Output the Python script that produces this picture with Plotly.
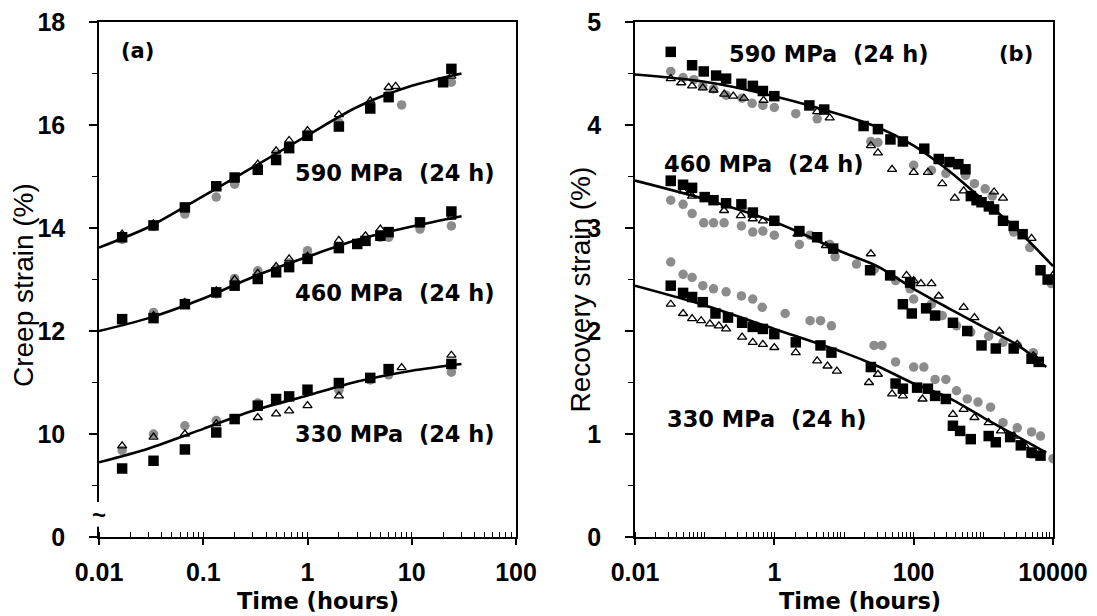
import plotly.graph_objects as go

M = 1.0 / 60.0  # one minute in hours

# ---------------- Panel (a): creep strain (%) vs time (hours) ----------------
a590_sq_t = [1*M, 2*M, 4*M, 8*M, 12*M, 20*M, 30*M, 40*M, 1, 2, 4, 6, 20, 24]
a590_sq_v = [13.82, 14.05, 14.40, 14.81, 14.98, 15.13, 15.32, 15.55, 15.79, 15.97, 16.32, 16.54, 16.83, 17.09]
a590_ci_t = [1*M, 2*M, 4*M, 8*M, 12*M, 20*M, 30*M, 40*M, 1, 2, 4, 6, 8, 24]
a590_ci_v = [13.78, 14.03, 14.27, 14.60, 14.85, 15.15, 15.42, 15.60, 15.82, 16.05, 16.40, 16.60, 16.39, 16.83]
a590_tr_t = [1*M, 2*M, 4*M, 8*M, 12*M, 20*M, 30*M, 40*M, 1, 2, 4, 6, 7, 24]
a590_tr_v = [13.88, 14.08, 14.38, 14.78, 14.97, 15.24, 15.50, 15.70, 15.89, 16.20, 16.47, 16.73, 16.75, 16.95]

a460_sq_t = [1*M, 2*M, 4*M, 8*M, 12*M, 20*M, 30*M, 40*M, 1, 2, 3, 3.6, 5, 6, 12, 24]
a460_sq_v = [12.23, 12.25, 12.52, 12.75, 12.88, 13.01, 13.14, 13.24, 13.40, 13.61, 13.69, 13.75, 13.85, 13.92, 14.11, 14.32]
a460_ci_t = [1*M, 2*M, 4*M, 8*M, 12*M, 20*M, 30*M, 40*M, 1, 2, 5, 6, 12, 24]
a460_ci_v = [12.20, 12.36, 12.55, 12.72, 13.02, 13.17, 13.20, 13.32, 13.56, 13.62, 13.82, 13.82, 13.98, 14.04]
a460_tr_t = [1*M, 2*M, 4*M, 8*M, 12*M, 20*M, 30*M, 40*M, 1, 2, 3.6, 5, 24]
a460_tr_v = [12.22, 12.30, 12.55, 12.78, 13.00, 13.12, 13.25, 13.40, 13.45, 13.76, 13.85, 13.98, 14.21]

a330_sq_t = [1*M, 2*M, 4*M, 8*M, 12*M, 20*M, 30*M, 40*M, 1, 2, 4, 6, 24]
a330_sq_v = [9.33, 9.48, 9.70, 10.03, 10.29, 10.55, 10.68, 10.73, 10.86, 10.99, 11.09, 11.26, 11.36]
a330_ci_t = [1*M, 2*M, 4*M, 8*M, 12*M, 20*M, 2, 4, 6, 24]
a330_ci_v = [9.68, 10.00, 10.16, 10.26, 10.30, 10.60, 10.85, 11.05, 11.15, 11.20]
a330_tr_t = [1*M, 2*M, 4*M, 8*M, 20*M, 30*M, 40*M, 1, 2, 8, 24]
a330_tr_v = [9.77, 9.94, 10.00, 10.20, 10.32, 10.39, 10.45, 10.55, 10.74, 11.29, 11.53]

a_fit_t = [0.01, 0.03, 0.1, 0.3, 1, 3, 10, 30]
a590_fit = [13.62, 14.02, 14.62, 15.18, 15.80, 16.35, 16.76, 17.00]
a460_fit = [12.00, 12.25, 12.63, 13.05, 13.44, 13.77, 14.03, 14.23]
a330_fit = [9.45, 9.72, 10.10, 10.45, 10.75, 11.02, 11.23, 11.36]

# ---------------- Panel (b): recovery strain (%) vs time (hours) ----------------
b590_sq_t = [0.0326, 0.066, 0.097, 0.146, 0.203, 0.337, 0.492, 0.685, 1.0, 3.18, 5.2, 19.1, 30.7, 46.4, 70,
             142, 229, 326, 438, 554, 662, 800, 942, 1200, 1425, 1916, 2727, 3664, 6620, 8380]
b590_sq_v = [4.71, 4.58, 4.52, 4.48, 4.45, 4.40, 4.38, 4.33, 4.28, 4.19, 4.15, 3.99, 3.96, 3.86, 3.84,
             3.77, 3.67, 3.64, 3.62, 3.57, 3.31, 3.27, 3.25, 3.21, 3.18, 3.07, 3.02, 2.94, 2.59, 2.50]
b590_ci_t = [0.0326, 0.049, 0.070, 0.094, 0.134, 0.203, 0.345, 0.481, 0.685, 1.0, 2.03, 4.12, 24.3, 30.7,
             100, 180, 290, 554, 745, 1062, 1343, 2727, 4645, 9420]
b590_ci_v = [4.52, 4.46, 4.44, 4.38, 4.35, 4.29, 4.26, 4.21, 4.19, 4.17, 4.11, 4.06, 3.84, 3.83,
             3.61, 3.56, 3.53, 3.51, 3.43, 3.38, 3.31, 2.96, 2.81, 2.46]
b590_tr_t = [0.0326, 0.046, 0.066, 0.094, 0.134, 0.191, 0.257, 0.366, 0.70, 4.12, 6.24, 24.3, 30.7, 49,
             100, 160, 257, 389, 522, 1425, 1916, 4920, 10000]
b590_tr_v = [4.45, 4.41, 4.38, 4.36, 4.34, 4.30, 4.28, 4.26, 4.24, 4.13, 4.07, 3.80, 3.73, 3.57,
             3.54, 3.54, 3.43, 3.29, 3.36, 3.35, 3.29, 2.90, 2.54]

b460_sq_t = [0.0326, 0.049, 0.066, 0.10, 0.134, 0.203, 0.337, 0.492, 1.0, 2.29, 4.12, 7.0, 23.7, 46, 70, 89,
             94, 151, 203, 366, 588, 942, 1510, 2727, 4920, 6240]
b460_sq_v = [3.46, 3.42, 3.39, 3.30, 3.27, 3.24, 3.23, 3.15, 3.07, 2.97, 2.91, 2.80, 2.59, 2.54, 2.26, 2.47,
             2.17, 2.22, 2.15, 2.08, 2.00, 1.86, 1.83, 1.83, 1.73, 1.70]
b460_ci_t = [0.0326, 0.049, 0.066, 0.097, 0.134, 0.19, 0.337, 0.49, 0.685, 1.0, 2.29, 3.26, 6.24, 7.45,
             15.1, 27.3, 46, 55, 89, 100, 180, 257, 412, 660, 1194, 1916, 3070, 5220]
b460_ci_v = [3.27, 3.23, 3.14, 3.05, 3.05, 3.05, 3.02, 2.96, 2.97, 2.93, 2.84, 2.93, 2.84, 2.72,
             2.65, 2.60, 2.54, 2.49, 2.41, 2.31, 2.26, 2.15, 2.05, 1.99, 1.95, 1.89, 1.86, 1.79]
b460_tr_t = [0.0326, 0.049, 0.066, 0.19, 0.33, 0.49, 0.685, 1.0, 2.15, 5.5, 24.3, 79, 100, 127, 180, 229,
             522, 745, 1700, 3070, 5220]
b460_tr_v = [3.43, 3.36, 3.31, 3.17, 3.12, 3.09, 3.07, 3.06, 2.94, 2.83, 2.75, 2.54, 2.49, 2.46, 2.46, 2.34,
             2.23, 2.13, 2.00, 1.87, 1.76]

b330_sq_t = [0.0326, 0.049, 0.066, 0.094, 0.143, 0.216, 0.345, 0.49, 0.685, 1.0, 2.03, 4.6, 6.6, 24.3, 55,
             70, 112, 160, 203, 290, 366, 464, 660, 1194, 1510, 2427, 3450, 4920, 6620]
b330_sq_v = [2.44, 2.37, 2.33, 2.28, 2.17, 2.13, 2.08, 2.04, 2.02, 1.97, 1.89, 1.86, 1.79, 1.65, 1.49,
             1.44, 1.45, 1.44, 1.37, 1.34, 1.08, 1.03, 0.95, 0.98, 0.92, 0.97, 0.89, 0.82, 0.79]
b330_ci_t = [0.0326, 0.049, 0.066, 0.094, 0.134, 0.203, 0.337, 0.49, 0.67, 1.43, 3.26, 4.6, 6.6, 27, 35,
             55, 100, 140, 203, 290, 412, 588, 838, 1268, 1916, 3070, 4920, 6620, 10000]
b330_ci_v = [2.67, 2.55, 2.52, 2.44, 2.41, 2.38, 2.34, 2.31, 2.23, 2.17, 2.10, 2.10, 2.05, 1.86, 1.86,
             1.70, 1.65, 1.65, 1.53, 1.53, 1.42, 1.34, 1.31, 1.26, 1.11, 1.06, 1.02, 0.98, 0.76]
b330_tr_t = [0.0326, 0.049, 0.066, 0.089, 0.119, 0.16, 0.203, 0.345, 0.49, 0.685, 1.0, 2.03, 4.12, 5.8, 7.9,
             22.8, 30.7, 49, 70, 134, 366, 522, 745, 1194, 1790, 2727, 3890, 5220]
b330_tr_v = [2.26, 2.17, 2.12, 2.10, 2.07, 2.05, 2.02, 1.94, 1.89, 1.87, 1.84, 1.79, 1.71, 1.66, 1.61,
             1.50, 1.58, 1.39, 1.37, 1.34, 1.19, 1.24, 1.16, 1.11, 1.03, 0.98, 0.89, 0.79]

b_fit_t = [0.01, 0.1, 1, 10, 30, 100, 300, 1000, 3000, 10000]
b590_fit = [4.49, 4.42, 4.28, 4.09, 3.98, 3.80, 3.57, 3.27, 2.99, 2.63]
b_fit_t2 = [0.01, 0.1, 1, 10, 30, 100, 300, 1000, 3000, 8000]
b460_fit = [3.46, 3.28, 3.06, 2.76, 2.63, 2.41, 2.23, 2.04, 1.87, 1.65]
b330_fit = [2.44, 2.25, 2.02, 1.79, 1.66, 1.49, 1.36, 1.16, 0.98, 0.82]

# ---------------- styles ----------------
GRAY = "rgb(140,140,140)"
FONT = "Liberation Sans, Arial, sans-serif"
WIDE = "DejaVu Sans, Liberation Sans, sans-serif"

def sq(t, v, xa, ya):
    return go.Scatter(x=t, y=v, mode="markers", xaxis=xa, yaxis=ya, showlegend=False,
                      marker=dict(symbol="square", size=10.5, color="black", line=dict(width=0)))

def ci(t, v, xa, ya):
    return go.Scatter(x=t, y=v, mode="markers", xaxis=xa, yaxis=ya, showlegend=False,
                      marker=dict(symbol="circle", size=9.5, color=GRAY, line=dict(width=0)))

def tr(t, v, xa, ya):
    return go.Scatter(x=t, y=v, mode="markers", xaxis=xa, yaxis=ya, showlegend=False,
                      marker=dict(symbol="triangle-up-open", size=8, color="black",
                                  line=dict(width=1.3, color="black")))

def fit(t, v, xa, ya):
    return go.Scatter(x=t, y=v, mode="lines", xaxis=xa, yaxis=ya, showlegend=False,
                      line=dict(color="black", width=2.6, shape="spline", smoothing=0.8))

fig = go.Figure()
for (ct, cv), (st, sv), (tt, tv) in [
    ((a590_ci_t, a590_ci_v), (a590_sq_t, a590_sq_v), (a590_tr_t, a590_tr_v)),
    ((a460_ci_t, a460_ci_v), (a460_sq_t, a460_sq_v), (a460_tr_t, a460_tr_v)),
    ((a330_ci_t, a330_ci_v), (a330_sq_t, a330_sq_v), (a330_tr_t, a330_tr_v)),
]:
    fig.add_trace(ci(ct, cv, "x", "y"))
    fig.add_trace(sq(st, sv, "x", "y"))
    fig.add_trace(tr(tt, tv, "x", "y"))
for fv in (a590_fit, a460_fit, a330_fit):
    fig.add_trace(fit(a_fit_t, fv, "x", "y"))

for (ct, cv), (st, sv), (tt, tv) in [
    ((b590_ci_t, b590_ci_v), (b590_sq_t, b590_sq_v), (b590_tr_t, b590_tr_v)),
    ((b460_ci_t, b460_ci_v), (b460_sq_t, b460_sq_v), (b460_tr_t, b460_tr_v)),
    ((b330_ci_t, b330_ci_v), (b330_sq_t, b330_sq_v), (b330_tr_t, b330_tr_v)),
]:
    fig.add_trace(ci(ct, cv, "x2", "y2"))
    fig.add_trace(sq(st, sv, "x2", "y2"))
    fig.add_trace(tr(tt, tv, "x2", "y2"))
fig.add_trace(fit(b_fit_t, b590_fit, "x2", "y2"))
fig.add_trace(fit(b_fit_t2, b460_fit, "x2", "y2"))
fig.add_trace(fit(b_fit_t2, b330_fit, "x2", "y2"))

W, H = 1097, 616
OFF = 8  # the page body margin shifts the figure by 8 px
def px(v):
    return (v - OFF) / W
def py(v):
    return 1 - (v - OFF) / H

tickfont = dict(family=FONT, size=25, color="black", weight="bold")

def bold(lst):
    return ["<b>%s</b>" % s for s in lst]

common_x = dict(type="log", showline=True, linecolor="black", linewidth=1.6, mirror=True, automargin=False,
                ticks="outside", ticklen=6, tickwidth=1.5, tickcolor="black", showgrid=False,
                zeroline=False, tickfont=tickfont, ticklabelstandoff=6, ticklabeloverflow="allow",
                minor=dict(ticks="inside", ticklen=5, tickwidth=1, tickcolor="black", dtick="D1", showgrid=False))
common_y = dict(showline=True, linecolor="black", linewidth=1.6, mirror=True, ticks="outside", automargin=False,
                ticklen=8, tickwidth=1.5, tickcolor="black", showgrid=False, zeroline=False,
                tickfont=tickfont, ticklabelstandoff=19, ticklabeloverflow="allow",
                minor=dict(ticks="outside", ticklen=5, tickwidth=1, tickcolor="black", showgrid=False))

yd = [py(537), py(22)]
fig.update_layout(
    width=W, height=H, margin=dict(l=0, r=0, t=0, b=0, autoexpand=False),
    paper_bgcolor="white", plot_bgcolor="white", font=dict(family=FONT, color="black"),
    xaxis=dict(common_x, domain=[px(99), px(516)], range=[-2, 2], anchor="y",
               tickvals=[0.01, 0.1, 1, 10, 100], ticktext=bold(["0.01", "0.1", "1", "10", "100"])),
    yaxis=dict(common_y, domain=yd, range=[8, 18], anchor="x",
               tickvals=[8, 10, 12, 14, 16, 18], ticktext=bold(["0", "10", "12", "14", "16", "18"]),
               minor=dict(common_y["minor"], tickvals=[9, 11, 13, 15, 17])),
    xaxis2=dict(common_x, domain=[px(635), px(1053)], range=[-2, 4], anchor="y2",
                tickvals=[0.01, 1, 100, 10000], ticktext=bold(["0.01", "1", "100", "10000"])),
    yaxis2=dict(common_y, domain=yd, range=[0, 5], anchor="x2",
                tickvals=[0, 1, 2, 3, 4, 5], ticktext=bold(["0", "1", "2", "3", "4", "5"]),
                minor=dict(common_y["minor"], tickvals=[0.5, 1.5, 2.5, 3.5, 4.5])),
)

# axis-break on the left panel
fig.add_shape(type="rect", xref="x domain", yref="y", x0=-0.012, x1=0.012, y0=8.2, y1=8.68,
              fillcolor="white", line=dict(width=0), layer="above")
ann_font = dict(family=WIDE, size=22.5, color="black")
ytitle_font = dict(family=FONT, size=28, color="black")
annots = [
    dict(text="<b>~</b>", xref="x domain", yref="y", x=0, y=8.43, font=dict(family=FONT, size=24, color="black")),
    dict(text="<b>(a)</b>", x=px(137), y=py(50.5), font=dict(family=WIDE, size=21, color="black")),
    dict(text="<b>590 MPa  (24 h)</b>", x=px(395), y=py(172.7), font=ann_font),
    dict(text="<b>460 MPa  (24 h)</b>", x=px(395), y=py(293.4), font=ann_font),
    dict(text="<b>330 MPa  (24 h)</b>", x=px(395), y=py(433.7), font=ann_font),
    dict(text="<b>590 MPa  (24 h)</b>", x=px(829), y=py(53.8), font=ann_font),
    dict(text="<b>460 MPa  (24 h)</b>", x=px(764), y=py(164), font=ann_font),
    dict(text="<b>330 MPa  (24 h)</b>", x=px(766.5), y=py(418.8), font=ann_font),
    dict(text="<b>(b)</b>", x=px(1016), y=py(53.8), font=dict(family=WIDE, size=21, color="black")),
    dict(text="<b>Time (hours)</b>", x=px(318), y=py(601), font=ann_font),
    dict(text="<b>Time (hours)</b>", x=px(860), y=py(601), font=ann_font),
    dict(text="Creep strain (%)", x=px(23), y=py(285), textangle=-90, font=ytitle_font),
    dict(text="Recovery strain (%)", x=px(580), y=py(289.5), textangle=-90, font=ytitle_font),
]
for a in annots:
    a.setdefault("xref", "paper")
    a.setdefault("yref", "paper")
    fig.add_annotation(showarrow=False, xanchor="center", yanchor="middle", **a)

fig.write_html("out.html")
